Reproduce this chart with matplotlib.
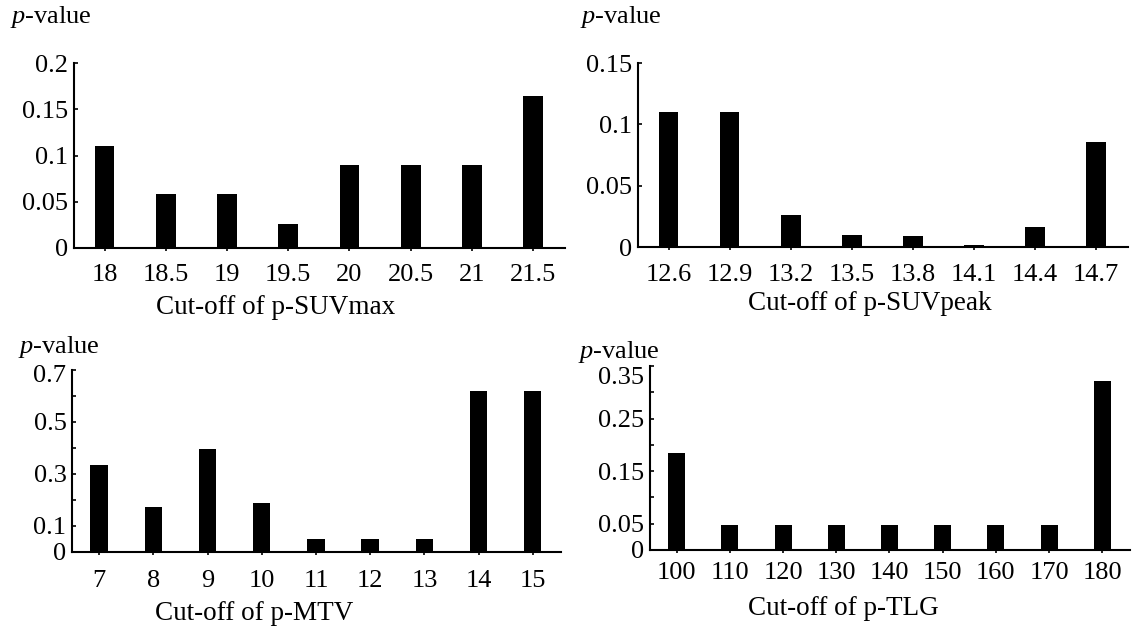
import matplotlib
matplotlib.use("Agg")
import matplotlib.pyplot as plt
import matplotlib.transforms as mtransforms
import numpy as np

# p-values for each cut-off
suvmax_cut = ['18', '18.5', '19', '19.5', '20', '20.5', '21', '21.5']
suvmax_p = [0.110, 0.058, 0.058, 0.026, 0.090, 0.090, 0.090, 0.164]

suvpeak_cut = ['12.6', '12.9', '13.2', '13.5', '13.8', '14.1', '14.4', '14.7']
suvpeak_p = [0.110, 0.110, 0.026, 0.0095, 0.0086, 0.0014, 0.016, 0.086]

mtv_cut = ['7', '8', '9', '10', '11', '12', '13', '14', '15']
mtv_p = [0.333, 0.173, 0.398, 0.188, 0.050, 0.050, 0.050, 0.620, 0.620]

tlg_cut = ['100', '110', '120', '130', '140', '150', '160', '170', '180']
tlg_p = [0.185, 0.048, 0.048, 0.048, 0.048, 0.048, 0.048, 0.048, 0.321]

# y ticks and their labels (some ticks are unlabelled in the original)
suvmax_yticks = [0, 0.05, 0.1, 0.15, 0.2]
suvmax_ylabels = ['0', '0.05', '0.1', '0.15', '0.2']
suvpeak_yticks = [0, 0.05, 0.1, 0.15]
suvpeak_ylabels = ['0', '0.05', '0.1', '0.15']
mtv_yticks = [0, 0.1, 0.2, 0.3, 0.4, 0.5, 0.6, 0.7]
mtv_ylabels = ['0', '0.1', '', '0.3', '', '0.5', '', '0.7']
tlg_yticks = [0, 0.05, 0.1, 0.15, 0.2, 0.25, 0.3, 0.35]
tlg_ylabels = ['0', '0.05', '', '0.15', '', '0.25', '', '0.35']

plt.rcParams['font.family'] = ['Liberation Serif', 'DejaVu Serif']
plt.rcParams['mathtext.fontset'] = 'custom'
plt.rcParams['mathtext.rm'] = 'Liberation Serif'
plt.rcParams['mathtext.it'] = 'Liberation Serif:italic'

W, H = 1135, 628
FS = 19


def px_axes(fig, left, right, top, bottom):
    return fig.add_axes([left / W, 1 - bottom / H, (right - left) / W, (bottom - top) / H])


def draw_panel(ax, cuts, pvals, yticks, ylabels, xlabel, xpad, xlab_pos, plab_pos, top_drop=0):
    x = np.arange(len(cuts))
    ax.bar(x, pvals, width=0.32, color='black')
    ax.set_xlim(-0.5, len(cuts) - 0.48)
    ax.set_ylim(0, yticks[-1])
    ax.set_xticks(x)
    ax.set_xticklabels(cuts)
    ax.set_yticks(yticks)
    ax.set_yticklabels(ylabels)
    for s in ['top', 'right']:
        ax.spines[s].set_visible(False)
    for s in ['left', 'bottom']:
        ax.spines[s].set_linewidth(1.5)
    ax.tick_params(axis='y', direction='in', length=3, width=1.2, pad=4, labelsize=FS)
    ax.tick_params(axis='x', direction='out', length=2.5, width=1.2, pad=xpad, labelsize=FS)
    if top_drop:
        # top label sits a little below its tick in the original
        lab = ax.get_yticklabels()[-1]
        lab.set_transform(lab.get_transform() +
                          mtransforms.ScaledTranslation(0, -top_drop / 100, fig.dpi_scale_trans))
    fig.text(xlab_pos[0] / W, 1 - xlab_pos[1] / H, xlabel, ha='center', va='baseline', fontsize=FS + 0.5)
    fig.text(plab_pos[0] / W, 1 - plab_pos[1] / H, r'$p$-value', ha='left', va='center', fontsize=FS)


fig = plt.figure(figsize=(W / 100, H / 100), dpi=100)

ax1 = px_axes(fig, 74, 565, 63, 248)
draw_panel(ax1, suvmax_cut, suvmax_p, suvmax_yticks, suvmax_ylabels,
           'Cut-off of p-SUVmax', 9, (276, 314), (10, 17))

ax2 = px_axes(fig, 638, 1128, 63, 247)
draw_panel(ax2, suvpeak_cut, suvpeak_p, suvpeak_yticks, suvpeak_ylabels,
           'Cut-off of p-SUVpeak', 9.5, (870, 310), (580, 17))

ax3 = px_axes(fig, 72, 561, 370, 552)
draw_panel(ax3, mtv_cut, mtv_p, mtv_yticks, mtv_ylabels,
           'Cut-off of p-MTV', 10.5, (254, 620), (18, 347), top_drop=3)

ax4 = px_axes(fig, 650, 1130, 366, 550)
draw_panel(ax4, tlg_cut, tlg_p, tlg_yticks, tlg_ylabels,
           'Cut-off of p-TLG', 6, (843, 615), (578, 352), top_drop=9)

fig.savefig('out.png', dpi=100)
